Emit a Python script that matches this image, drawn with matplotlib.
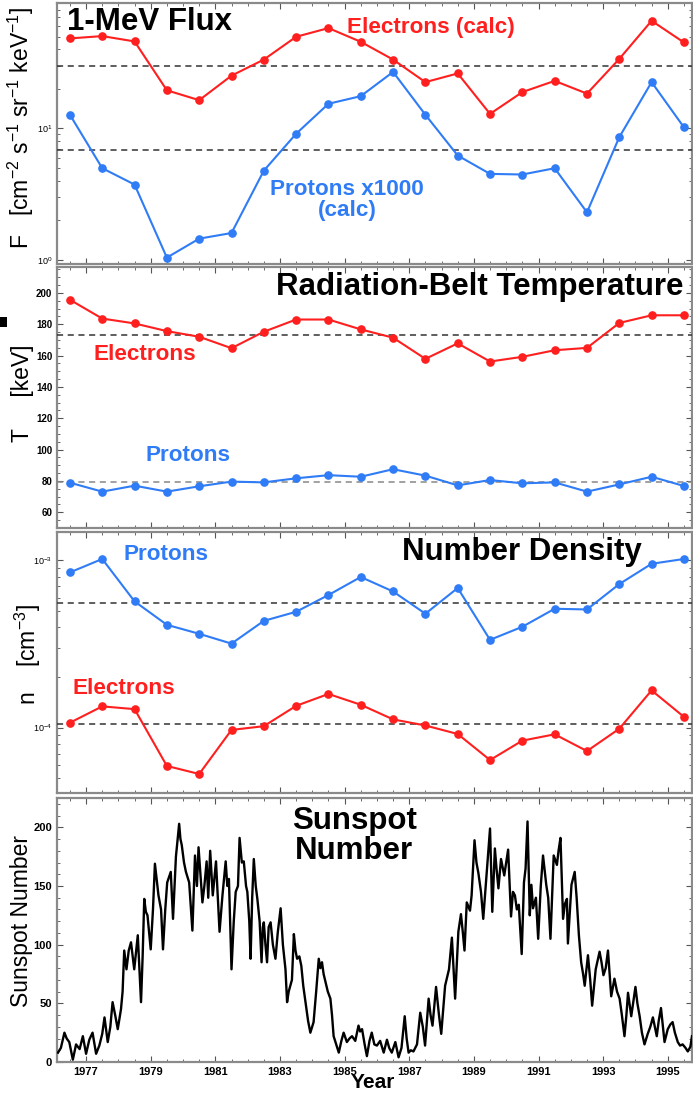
import numpy as np
import matplotlib
matplotlib.use("Agg")
import matplotlib.pyplot as plt
from matplotlib.ticker import MultipleLocator, LogLocator, NullFormatter, FixedLocator
from matplotlib.patches import Rectangle

plt.rcParams['font.family'] = ['Liberation Sans', 'DejaVu Sans']
plt.rcParams['mathtext.default'] = 'regular'

# ---- data ----
anos = np.arange(1976.5, 1996.0, 1.0)

fluxo_eletrons = [48.4, 50.4, 45.9, 19.5, 16.4, 25.2, 33.4, 49.8, 58.0, 45.6,
                  33.4, 22.5, 26.2, 12.9, 18.9, 23.0, 18.4, 33.8, 65.9, 45.1]
fluxo_protons = [12.7, 4.98, 3.74, 1.04, 1.45, 1.60, 4.77, 9.11, 15.4, 17.6,
                 26.9, 12.7, 6.22, 4.51, 4.46, 4.98, 2.30, 8.58, 22.5, 10.2]
fluxo_ref = [29.7, 6.82]

temp_eletrons = [195.6, 183.6, 180.5, 175.6, 172.0, 164.7, 175.2, 183.0, 183.0, 176.7,
                 171.4, 157.9, 167.8, 156.2, 159.2, 163.4, 164.9, 180.8, 185.7, 185.7]
temp_protons = [78.9, 73.2, 77.0, 73.2, 76.6, 79.6, 79.1, 81.7, 83.7, 82.7,
                87.5, 83.4, 77.2, 80.6, 78.5, 79.1, 73.2, 77.8, 82.7, 76.8]
temp_ref = [173.1, 79.6]

dens_protons = [8.48e-4, 1.02e-3, 5.69e-4, 4.12e-4, 3.64e-4, 3.18e-4, 4.35e-4, 4.93e-4, 6.21e-4, 7.96e-4,
                6.52e-4, 4.80e-4, 6.84e-4, 3.35e-4, 4.01e-4, 5.14e-4, 5.09e-4, 7.22e-4, 9.55e-4, 1.02e-3]
dens_eletrons = [1.07e-4, 1.34e-4, 1.29e-4, 5.9e-5, 5.28e-5, 9.69e-5, 1.02e-4, 1.35e-4, 1.59e-4, 1.37e-4,
                 1.12e-4, 1.03e-4, 9.16e-5, 6.4e-5, 8.36e-5, 9.12e-5, 7.24e-5, 9.85e-5, 1.67e-4, 1.16e-4]
dens_ref = [5.58e-4, 1.047e-4]

# manchas solares
ss_anos = [
    1976.13, 1976.22, 1976.33, 1976.40, 1976.48, 1976.59, 1976.69, 1976.80, 1976.90, 1977.00,
    1977.10, 1977.20, 1977.31, 1977.41, 1977.50, 1977.57, 1977.67, 1977.75, 1977.82, 1977.90,
    1977.98, 1978.08, 1978.13, 1978.18, 1978.25, 1978.32, 1978.39, 1978.49, 1978.60, 1978.70,
    1978.75, 1978.80, 1978.85, 1978.90, 1979.00, 1979.07, 1979.13, 1979.24, 1979.32, 1979.38,
    1979.45, 1979.51, 1979.62, 1979.69, 1979.78, 1979.85, 1979.88, 1979.92, 1979.96, 1980.03,
    1980.09, 1980.19, 1980.29, 1980.37, 1980.43, 1980.48, 1980.54, 1980.60, 1980.66, 1980.73,
    1980.78, 1980.84, 1980.92, 1981.02, 1981.13, 1981.22, 1981.32, 1981.37, 1981.42, 1981.50,
    1981.57, 1981.63, 1981.70, 1981.75, 1981.82, 1981.88, 1981.95, 1981.99, 1982.05, 1982.09,
    1982.14, 1982.19, 1982.25, 1982.30, 1982.37, 1982.43, 1982.47, 1982.50, 1982.55, 1982.60,
    1982.65, 1982.71, 1982.78, 1982.86, 1982.93, 1983.02, 1983.09, 1983.17, 1983.22, 1983.27,
    1983.32, 1983.37, 1983.43, 1983.48, 1983.53, 1983.60, 1983.66, 1983.72, 1983.79, 1983.87,
    1983.94, 1984.04, 1984.12, 1984.20, 1984.25, 1984.30, 1984.35, 1984.41, 1984.48, 1984.56,
    1984.61, 1984.66, 1984.74, 1984.82, 1984.90, 1984.97, 1985.07, 1985.15, 1985.23, 1985.33,
    1985.43, 1985.48, 1985.54, 1985.62, 1985.69, 1985.77, 1985.84, 1985.92, 1986.00, 1986.10,
    1986.21, 1986.31, 1986.38, 1986.46, 1986.57, 1986.67, 1986.76, 1986.86, 1986.92, 1986.98,
    1987.05, 1987.13, 1987.24, 1987.34, 1987.42, 1987.49, 1987.60, 1987.66, 1987.72, 1987.83,
    1987.92, 1987.99, 1988.05, 1988.11, 1988.23, 1988.32, 1988.37, 1988.42, 1988.52, 1988.60,
    1988.66, 1988.71, 1988.78, 1988.88, 1988.93, 1989.02, 1989.08, 1989.14, 1989.22, 1989.29,
    1989.40, 1989.50, 1989.57, 1989.65, 1989.70, 1989.76, 1989.84, 1989.94, 1990.06, 1990.15,
    1990.21, 1990.27, 1990.33, 1990.39, 1990.48, 1990.55, 1990.60, 1990.66, 1990.73, 1990.78,
    1990.83, 1990.92, 1990.99, 1991.07, 1991.14, 1991.24, 1991.30, 1991.37, 1991.42, 1991.47,
    1991.57, 1991.62, 1991.68, 1991.76, 1991.82, 1991.88, 1991.91, 1992.02, 1992.12, 1992.18,
    1992.25, 1992.32, 1992.38, 1992.43, 1992.53, 1992.60, 1992.66, 1992.72, 1992.77, 1992.89,
    1992.95, 1993.01, 1993.08, 1993.15, 1993.20, 1993.25, 1993.35, 1993.43, 1993.51, 1993.58,
    1993.66, 1993.72, 1993.77, 1993.87, 1994.00, 1994.06, 1994.13, 1994.20, 1994.28, 1994.38,
    1994.46, 1994.54, 1994.60, 1994.66, 1994.72, 1994.79, 1994.85, 1994.90, 1995.00, 1995.08,
    1995.15, 1995.22, 1995.31, 1995.38, 1995.46, 1995.55, 1995.62, 1995.70, 1995.75,
]
ss_valores = [
    8, 12, 25, 20, 17, 2, 15, 11, 22, 7,
    19, 25, 7, 14, 24, 38, 17, 30, 51, 40,
    28, 45, 60, 95, 79, 95, 102, 79, 108, 51,
    90, 139, 128, 125, 96, 130, 169, 142, 130, 96,
    130, 153, 162, 122, 175, 195, 203, 190, 185, 170,
    162, 153, 112, 176, 150, 183, 160, 136, 150, 171,
    140, 180, 142, 171, 111, 142, 171, 150, 156, 79,
    120, 145, 150, 191, 170, 171, 150, 145, 120, 88,
    140, 173, 150, 139, 120, 85, 115, 119, 100, 85,
    115, 119, 100, 88, 110, 131, 100, 79, 51, 60,
    65, 70, 109, 95, 88, 90, 82, 65, 51, 35,
    25, 34, 60, 88, 80, 85, 75, 68, 60, 54,
    40, 22, 15, 8, 18, 25, 17, 20, 22, 18,
    31, 26, 28, 15, 5, 18, 25, 15, 14, 18,
    8, 19, 12, 8, 17, 4, 12, 39, 20, 8,
    10, 9, 15, 42, 30, 14, 54, 40, 31, 64,
    40, 24, 45, 65, 79, 106, 80, 54, 111, 126,
    110, 95, 136, 129, 142, 189, 170, 161, 145, 122,
    162, 199, 128, 182, 165, 148, 173, 159, 181, 124,
    145, 142, 130, 134, 92, 153, 165, 205, 125, 151,
    131, 140, 105, 150, 176, 151, 140, 105, 140, 176,
    168, 180, 191, 122, 135, 139, 101, 151, 162, 140,
    108, 85, 75, 65, 91, 70, 48, 65, 79, 94,
    85, 74, 80, 95, 75, 56, 71, 60, 54, 40,
    22, 40, 59, 39, 64, 50, 39, 25, 15, 24,
    30, 38, 30, 22, 35, 46, 30, 17, 28, 32,
    34, 25, 17, 14, 15, 12, 9, 13, 22,
]

anos_ticks = [1977, 1979, 1981, 1983, 1985, 1987, 1989, 1991, 1993, 1995]

vermelho = "#FF1F1F"
azul = "#2F7CF6"
cinza_borda = "#8a8a8a"

W, H = 693, 1097
fig = plt.figure(figsize=(W / 100, H / 100), dpi=100)
fig.patch.set_facecolor("white")


def painel(topo, base):
    return fig.add_axes([57 / W, 1 - base / H, 635 / W, (base - topo) / H])


def estilo(ax):
    ax.set_xlim(1976.1, 1995.75)
    ax.xaxis.set_major_locator(FixedLocator(anos_ticks))
    ax.xaxis.set_minor_locator(MultipleLocator(0.5))
    ax.tick_params(which="both", direction="in", top=True, right=True, color="#555555")
    ax.tick_params(which="major", length=4, width=0.8)
    ax.tick_params(which="minor", length=2.5, width=0.6)
    for s in ax.spines.values():
        s.set_color(cinza_borda)
        s.set_linewidth(1.6)


ax1 = painel(3, 264)
ax2 = painel(267, 528)
ax3 = painel(532, 793)
ax4 = painel(798, 1062)

kw = dict(marker="o", markersize=5.2, linewidth=1.5, zorder=5)
tam_titulo = 22.5
tam_serie = 16.2

# --- painel 1: fluxo ---
ax1.set_yscale("log")
ax1.plot(anos, fluxo_eletrons, color=vermelho, **kw)
ax1.plot(anos, fluxo_protons, color=azul, **kw)
for v in fluxo_ref:
    ax1.axhline(v, color="#333333", linestyle=(0, (4, 3)), linewidth=1.1, zorder=3)
ax1.set_ylim(0.93, 90)
estilo(ax1)
ax1.yaxis.set_major_locator(LogLocator(base=10))
ax1.yaxis.set_minor_locator(LogLocator(base=10, subs=range(2, 10)))
ax1.yaxis.set_minor_formatter(NullFormatter())
ax1.tick_params(axis="y", labelsize=6.5)
ax1.tick_params(axis="x", labelbottom=False)
ax1.text(0.016, 0.927, "1-MeV Flux", transform=ax1.transAxes, fontsize=tam_titulo,
         fontweight="bold", ha="left", va="center")
ax1.text(0.457, 0.905, "Electrons (calc)", transform=ax1.transAxes, fontsize=tam_serie,
         fontweight="bold", color=vermelho, ha="left", va="center")
ax1.text(0.457, 0.245, "Protons x1000\n(calc)", transform=ax1.transAxes, fontsize=tam_serie,
         fontweight="bold", color=azul, ha="center", va="center", linespacing=1.0)

# --- painel 2: temperatura ---
ax2.plot(anos, temp_eletrons, color=vermelho, **kw)
ax2.plot(anos, temp_protons, color=azul, **kw)
ax2.axhline(temp_ref[0], color="#333333", linestyle=(0, (4, 3)), linewidth=1.1, zorder=3)
ax2.axhline(temp_ref[1], color="#888888", linestyle=(0, (4, 3)), linewidth=1.1, zorder=3)
ax2.set_ylim(50, 216.5)
estilo(ax2)
ax2.set_yticks(np.arange(60, 201, 20))
ax2.yaxis.set_minor_locator(MultipleLocator(5))
ax2.tick_params(axis="y", labelsize=7)
for t in ax2.get_yticklabels():
    t.set_fontweight("bold")
ax2.tick_params(axis="x", labelbottom=False)
ax2.text(0.986, 0.923, "Radiation-Belt Temperature", transform=ax2.transAxes, fontsize=tam_titulo,
         fontweight="bold", ha="right", va="center")
ax2.text(0.057, 0.663, "Electrons", transform=ax2.transAxes, fontsize=tam_serie,
         fontweight="bold", color=vermelho, ha="left", va="center")
ax2.text(0.139, 0.276, "Protons", transform=ax2.transAxes, fontsize=tam_serie,
         fontweight="bold", color=azul, ha="left", va="center")

# --- painel 3: densidade ---
ax3.set_yscale("log")
ax3.plot(anos, dens_protons, color=azul, **kw)
ax3.plot(anos, dens_eletrons, color=vermelho, **kw)
for v in dens_ref:
    ax3.axhline(v, color="#333333", linestyle=(0, (4, 3)), linewidth=1.1, zorder=3)
ax3.set_ylim(10 ** -4.391, 10 ** -2.83)
estilo(ax3)
ax3.yaxis.set_major_locator(LogLocator(base=10))
ax3.yaxis.set_minor_locator(LogLocator(base=10, subs=range(2, 10)))
ax3.yaxis.set_minor_formatter(NullFormatter())
ax3.tick_params(axis="y", labelsize=6.5)
ax3.tick_params(axis="x", labelbottom=False)
ax3.text(0.543, 0.923, "Number Density", transform=ax3.transAxes, fontsize=tam_titulo,
         fontweight="bold", ha="left", va="center")
ax3.text(0.104, 0.912, "Protons", transform=ax3.transAxes, fontsize=tam_serie,
         fontweight="bold", color=azul, ha="left", va="center")
ax3.text(0.024, 0.402, "Electrons", transform=ax3.transAxes, fontsize=tam_serie,
         fontweight="bold", color=vermelho, ha="left", va="center")

# --- painel 4: manchas solares ---
ax4.plot(ss_anos, ss_valores, color="black", linewidth=1.7, zorder=5)
ax4.set_ylim(0, 225)
estilo(ax4)
ax4.set_yticks([0, 50, 100, 150, 200])
ax4.yaxis.set_minor_locator(MultipleLocator(10))
ax4.set_xticklabels([str(a) for a in anos_ticks])
ax4.tick_params(axis="both", labelsize=8)
for t in ax4.get_yticklabels() + ax4.get_xticklabels():
    t.set_fontweight("bold")
ax4.text(0.468, 0.856, "Sunspot\nNumber", transform=ax4.transAxes, fontsize=tam_titulo,
         fontweight="bold", ha="center", va="center", linespacing=1.0)

# rotulos dos eixos
fig.text(21 / W, 1 - 128 / H, r"F   [cm$^{-2}$ s$^{-1}$ sr$^{-1}$ keV$^{-1}$]", rotation=90,
         ha="center", va="center", fontsize=16.5)
fig.text(23 / W, 1 - 393 / H, "T     [keV]", rotation=90, ha="center", va="center", fontsize=16.5)
fig.text(28 / W, 1 - 655 / H, r"n    [cm$^{-3}$]", rotation=90, ha="center", va="center", fontsize=16.5)
fig.text(22 / W, 1 - 921 / H, "Sunspot Number", rotation=90, ha="center", va="center", fontsize=16.5)
fig.text(373 / W, 1 - 1083 / H, "Year", ha="center", va="center", fontsize=15, fontweight="bold")

# pequeno quadrado preto na margem
fig.patches.append(Rectangle((0, 1 - 327 / H), 7 / W, 10 / H, transform=fig.transFigure,
                             facecolor="black", edgecolor="none"))

fig.savefig("out.png", dpi=100)
